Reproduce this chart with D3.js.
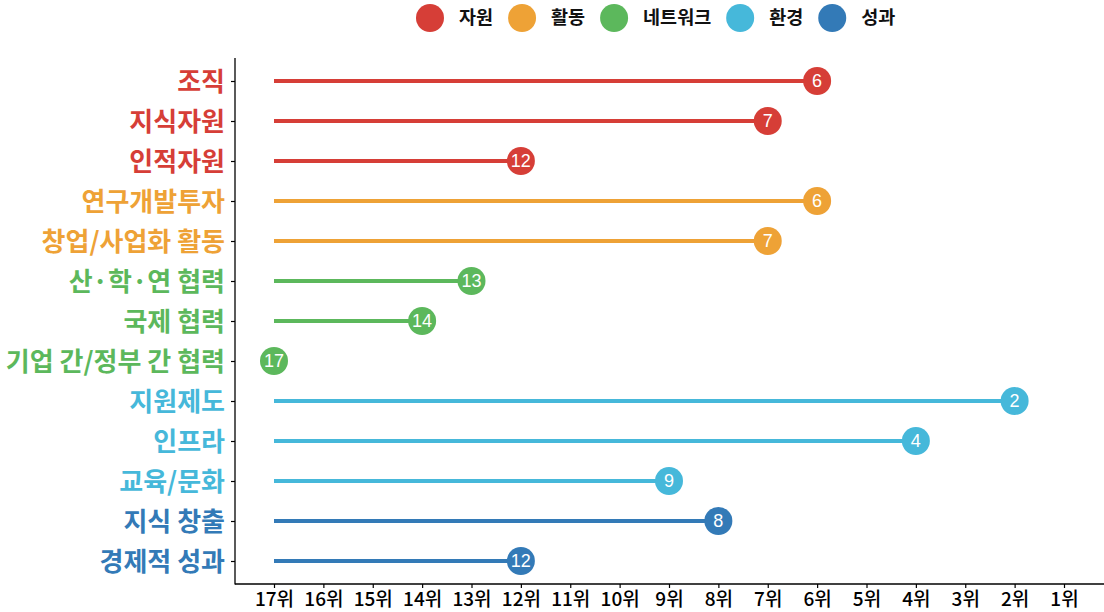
<!DOCTYPE html>
<html><head><meta charset="utf-8">
<script src="https://cdn.jsdelivr.net/npm/d3@7"></script>
<style>
body{margin:0;background:#fff;}
text{font-family:"Noto Sans CJK KR","Noto Sans",sans-serif;}
text.num{font-family:"Liberation Sans",Arial,sans-serif;}
</style></head>
<body><svg id="c" width="1104" height="612"></svg>
<script>
const categories = ["조직","지식자원","인적자원","연구개발투자","창업/사업화 활동","산·학·연 협력","국제 협력","기업 간/정부 간 협력","지원제도","인프라","교육/문화","지식 창출","경제적 성과"];
const groups = ["자원","자원","자원","활동","활동","네트워크","네트워크","네트워크","환경","환경","환경","성과","성과"];
const ranks = [6,7,12,6,7,13,14,17,2,4,9,8,12];
const groupNames = ["자원","활동","네트워크","환경","성과"];
const groupColors = ["#d63e37","#eea236","#5cb85c","#46b8da","#337ab7"];
const rankTicks = [17,16,15,14,13,12,11,10,9,8,7,6,5,4,3,2,1];

const svg = d3.select("#c");
const color = d3.scaleOrdinal().domain(groupNames).range(groupColors);
const x = d3.scaleLinear().domain([17,1]).range([274,1064]);
const y = d3.scalePoint().domain(categories).range([81,561]);
const axisLeftX = 235, axisBottomY = 584;

// axes lines
svg.append("line").attr("x1",axisLeftX).attr("x2",axisLeftX).attr("y1",58).attr("y2",axisBottomY+0.5)
  .attr("stroke","#000").attr("stroke-width",1.3);
svg.append("line").attr("x1",axisLeftX).attr("x2",1104).attr("y1",axisBottomY).attr("y2",axisBottomY)
  .attr("stroke","#000").attr("stroke-width",1.3);

// y axis
const gy = svg.append("g").attr("transform",`translate(${axisLeftX},0)`)
  .call(d3.axisLeft(y).tickSize(4).tickPadding(6));
gy.select(".domain").remove();
gy.selectAll(".tick line").attr("stroke","#000").attr("stroke-width",1.2);
gy.selectAll(".tick text").attr("font-size",26).attr("font-weight","bold")
  .attr("fill",(d,i)=>color(groups[i])).attr("dy","0.36em");

// x axis
const gx = svg.append("g").attr("transform",`translate(0,${axisBottomY})`)
  .call(d3.axisBottom(x).tickValues(rankTicks).tickFormat(d=>d+"위").tickSize(4).tickPadding(4));
gx.select(".domain").remove();
gx.selectAll(".tick line").attr("stroke","#000").attr("stroke-width",1.2);
gx.selectAll(".tick text").attr("font-size",19).attr("font-weight","500").attr("fill","#000");

// lollipops
const rows = categories.map((c,i)=>({c,g:groups[i],r:ranks[i]}));
svg.append("g").selectAll("line").data(rows).join("line")
  .attr("x1",x(17)).attr("x2",d=>x(d.r)).attr("y1",d=>y(d.c)).attr("y2",d=>y(d.c))
  .attr("stroke",d=>color(d.g)).attr("stroke-width",4);
svg.append("g").selectAll("circle").data(rows).join("circle")
  .attr("cx",d=>x(d.r)).attr("cy",d=>y(d.c)).attr("r",14).attr("fill",d=>color(d.g));
svg.append("g").selectAll("text").data(rows).join("text").attr("class","num")
  .attr("x",d=>x(d.r)).attr("y",d=>y(d.c)).attr("dy","0.36em").attr("text-anchor","middle")
  .attr("fill","#fff").attr("font-size",18)
  .text(d=>d.r);

// legend
const lg = svg.append("g");
let cx = 430;
groupNames.forEach((g,i)=>{
  lg.append("circle").attr("cx",cx).attr("cy",18).attr("r",14).attr("fill",groupColors[i]);
  const t = lg.append("text").attr("x",cx+29).attr("y",18).attr("dy","0.35em")
    .attr("font-size",18.5).attr("font-weight","bold").attr("fill","#111").text(g);
  const w = t.node().getComputedTextLength();
  cx = cx + 29 + w + 29;
});
</script></body></html>
